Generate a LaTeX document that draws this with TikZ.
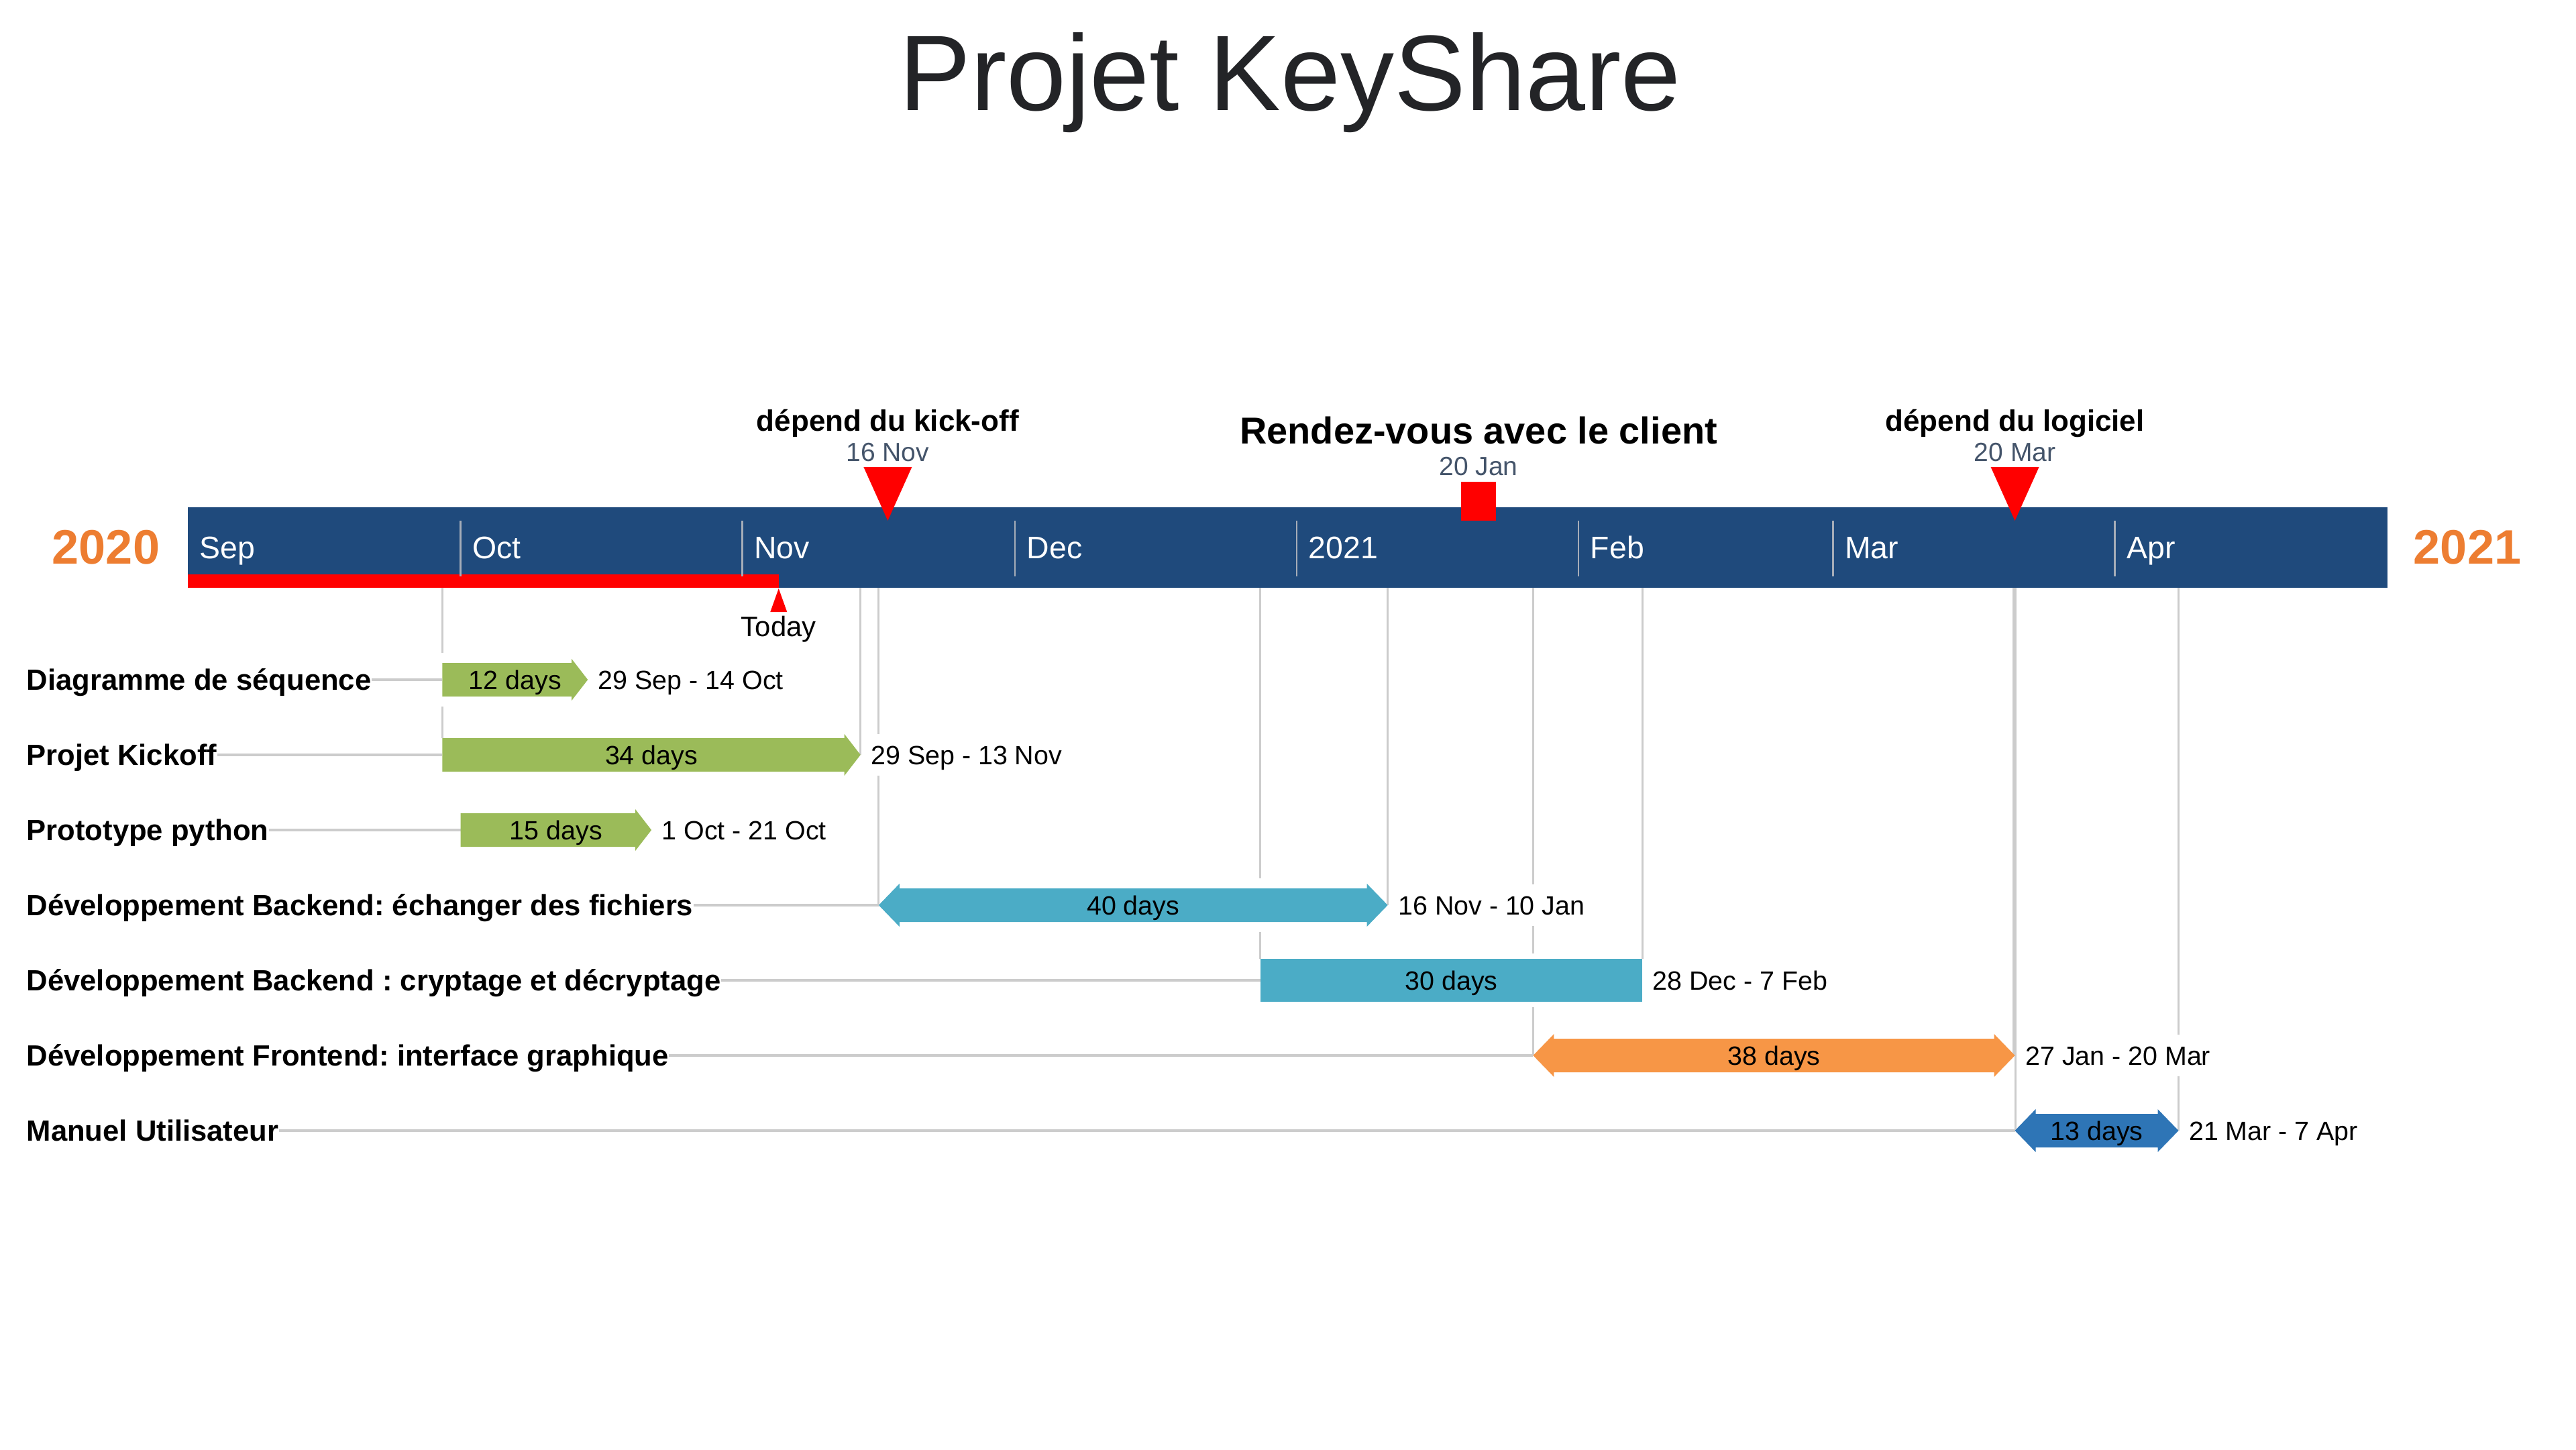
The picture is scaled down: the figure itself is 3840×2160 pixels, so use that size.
\documentclass[tikz,border=0pt]{standalone}
\usepackage{fontspec}
\setmainfont{Liberation Sans}
\usepackage{tikz}
\usepackage{xcolor}
\frenchspacing
\definecolor{tlblue}{HTML}{1F4A7C}
\definecolor{yearorange}{HTML}{ED7D31}
\definecolor{taskgreen}{HTML}{9BBB59}
\definecolor{taskteal}{HTML}{4BACC6}
\definecolor{taskorange}{HTML}{F79646}
\definecolor{taskblue}{HTML}{2E75B6}
\definecolor{gridgray}{HTML}{CCCCCC}
\definecolor{sepgray}{HTML}{A6ADB8}
\definecolor{slate}{HTML}{44546A}
\definecolor{titlegray}{HTML}{232427}
% x (in px) of the start of a day, days counted from 1 Sep 2020
\newcommand{\dayx}[1]{280+13.55*#1}
\newcommand{\drawSingleTask}[4]{
\fill [#4] ({\dayx{#1}},#3-25) -- ({\dayx{#2}-24},#3-25) -- ({\dayx{#2}-24},#3-31) -- ({\dayx{#2}},#3) -- ({\dayx{#2}-24},#3+31) -- ({\dayx{#2}-24},#3+25) -- ({\dayx{#1}},#3+25) -- cycle;
}
\newcommand{\drawDoubleTask}[4]{
\fill [#4] ({\dayx{#1}},#3) -- ({\dayx{#1}+31},#3-32) -- ({\dayx{#1}+31},#3-25) -- ({\dayx{#2}-31},#3-25) -- ({\dayx{#2}-31},#3-32) -- ({\dayx{#2}},#3) -- ({\dayx{#2}-31},#3+32) -- ({\dayx{#2}-31},#3+25) -- ({\dayx{#1}+31},#3+25) -- ({\dayx{#1}+31},#3+32) -- cycle;
}
\newcommand{\drawPlainTask}[4]{
\fill [#4] ({\dayx{#1}},#3-32) rectangle ({\dayx{#2}},#3+32);
}
\newcommand{\drawMilestone}[1]{
\fill [red] ({\dayx{#1}-36},696) -- ({\dayx{#1}+36},696) -- ({\dayx{#1}},776) -- cycle;
}

\begin{document}
\begin{tikzpicture}[x=0.01cm,y=-0.01cm,
  tasklabel/.style={anchor=west,inner sep=0pt,font=\bfseries\fontsize{12.4}{15}\selectfont,text height=8.9pt,text depth=0pt},
  dates/.style={anchor=west,inner sep=0pt,font=\fontsize{11.2}{13}\selectfont,text height=8pt,text depth=0pt},
  duration/.style={inner sep=0pt,font=\fontsize{11.2}{13}\selectfont,text height=8pt,text depth=0pt},
  month/.style={anchor=west,inner sep=0pt,text=white,font=\fontsize{13.2}{15}\selectfont,text height=9.45pt,text depth=0pt},
  year/.style={inner sep=0pt,text=yearorange,font=\bfseries\fontsize{20.5}{24}\selectfont,text height=14.7pt,text depth=0pt},
  msdate/.style={anchor=base,inner sep=0pt,text=slate,font=\fontsize{11.1}{13}\selectfont},
  mstitle/.style={anchor=base,inner sep=0pt,font=\bfseries\fontsize{12.5}{15}\selectfont},
  hline/.style={gridgray,line width=0.9pt},
  vline/.style={gridgray,line width=0.85pt}]
\fill [white] (0,0) rectangle (3840,2160);
\useasboundingbox (0,0) rectangle (3840,2160);
\node (title) at (1923,164) [anchor=base,inner sep=0pt,text=titlegray,font=\fontsize{45.5}{50}\selectfont] {Projet KeyShare};
% timeline
\fill [tlblue] (280,756) rectangle ({\dayx{242}},876);
\fill [red] (280,856) rectangle ({\dayx{65}},876);
\foreach \d in {30,61,91,122,153,181,212}
  \draw [sepgray,line width=0.7pt] ({\dayx{\d}},776) -- ({\dayx{\d}},859);
\foreach \d/\m [count=\i] in {0/Sep,30/Oct,61/Nov,91/Dec,122/2021,153/Feb,181/Mar,212/Apr}
  \node (mon\i) at ({\dayx{\d}+17},816) [month] {\m};
\node (y2020) at (158,815) [year] {2020};
\node (y2021) at (3678,815) [year] {2021};
% today
\fill [red] ({\dayx{65}},877) -- ({\dayx{65}+12.5},912) -- ({\dayx{65}-12.5},912) -- cycle;
\node (today) at ({\dayx{65}},948) [anchor=base,inner sep=0pt,font=\fontsize{11.9}{14}\selectfont] {Today};
% milestones
\drawMilestone{77}
\node (ms1date) at ({\dayx{77}},687) [msdate] {16 Nov};
\node (ms1) at ({\dayx{77}},642) [mstitle] {dépend du kick-off};
\fill [red] ({\dayx{142}-26},718) rectangle ({\dayx{142}+26},776);
\node (ms2date) at ({\dayx{142}},708) [msdate] {20 Jan};
\node (ms2) at ({\dayx{142}},661) [mstitle,font=\bfseries\fontsize{15.9}{18}\selectfont] {Rendez-vous avec le client};
\drawMilestone{201}
\node (ms3date) at ({\dayx{201}},687) [msdate] {20 Mar};
\node (ms3) at ({\dayx{201}},642) [mstitle] {dépend du logiciel};
% grid lines under the timeline
\foreach \x/\ya/\yb in {28/876/973, 28/1053/1100, 74/876/1125, 76/876/1094, 76/1156/1349,
    118/876/1309, 118/1389/1429, 132/876/1349, 148/876/1318, 148/1380/1421, 148/1501/1573,
    160/876/1429, 200.85/876/1573, 201.1/876/1685, 219/876/1542, 219/1604/1685}
  \draw [vline] ({\dayx{\x}},\ya) -- ({\dayx{\x}},\yb);
% tasks
\node (lbl1) at (39,1013) [tasklabel] {Diagramme de séquence};
\coordinate (s1) at ({\dayx{28}},1013);
\draw [hline] (lbl1.east) -- (s1);
\drawSingleTask{28}{44}{1013}{taskgreen}
\node (d1) at ({(\dayx{28}+\dayx{44})/2},1013) [duration] {12 days};
\node (t1) at ({\dayx{44}+15},1013) [dates] {29 Sep - 14 Oct};
\node (lbl2) at (39,1125) [tasklabel] {Projet Kickoff};
\coordinate (s2) at ({\dayx{28}},1125);
\draw [hline] (lbl2.east) -- (s2);
\drawSingleTask{28}{74}{1125}{taskgreen}
\node (d2) at ({(\dayx{28}+\dayx{74})/2},1125) [duration] {34 days};
\node (t2) at ({\dayx{74}+15},1125) [dates] {29 Sep - 13 Nov};
\node (lbl3) at (39,1237) [tasklabel] {Prototype python};
\coordinate (s3) at ({\dayx{30}},1237);
\draw [hline] (lbl3.east) -- (s3);
\drawSingleTask{30}{51}{1237}{taskgreen}
\node (d3) at ({(\dayx{30}+\dayx{51})/2},1237) [duration] {15 days};
\node (t3) at ({\dayx{51}+15},1237) [dates] {1 Oct - 21 Oct};
\node (lbl4) at (39,1349) [tasklabel] {Développement Backend: échanger des fichiers};
\coordinate (s4) at ({\dayx{76}},1349);
\draw [hline] (lbl4.east) -- (s4);
\drawDoubleTask{76}{132}{1349}{taskteal}
\node (d4) at ({(\dayx{76}+\dayx{132})/2},1349) [duration] {40 days};
\node (t4) at ({\dayx{132}+15},1349) [dates] {16 Nov - 10 Jan};
\node (lbl5) at (39,1461) [tasklabel] {Développement Backend : cryptage et décryptage};
\coordinate (s5) at ({\dayx{118}},1461);
\draw [hline] (lbl5.east) -- (s5);
\drawPlainTask{118}{160}{1461}{taskteal}
\node (d5) at ({(\dayx{118}+\dayx{160})/2},1461) [duration] {30 days};
\node (t5) at ({\dayx{160}+15},1461) [dates] {28 Dec - 7 Feb};
\node (lbl6) at (39,1573) [tasklabel] {Développement Frontend: interface graphique};
\coordinate (s6) at ({\dayx{148}},1573);
\draw [hline] (lbl6.east) -- (s6);
\drawDoubleTask{148}{201}{1573}{taskorange}
\node (d6) at ({(\dayx{148}+\dayx{201})/2},1573) [duration] {38 days};
\node (t6) at ({\dayx{201}+15},1573) [dates] {27 Jan - 20 Mar};
\node (lbl7) at (39,1685) [tasklabel] {Manuel Utilisateur};
\coordinate (s7) at ({\dayx{201}},1685);
\draw [hline] (lbl7.east) -- (s7);
\drawDoubleTask{201}{219}{1685}{taskblue}
\node (d7) at ({(\dayx{201}+\dayx{219})/2},1685) [duration] {13 days};
\node (t7) at ({\dayx{219}+15},1685) [dates] {21 Mar - 7 Apr};
\end{tikzpicture}
\end{document}
